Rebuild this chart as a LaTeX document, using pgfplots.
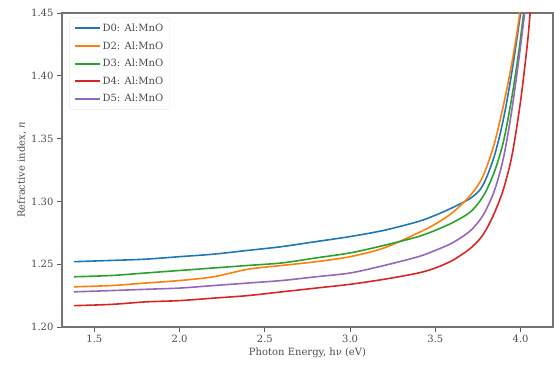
\documentclass[border=0pt]{standalone}
\usepackage{pgfplots}
\pgfplotsset{compat=1.18}
\usepackage{fontspec}
\setmainfont{DejaVu Serif}
\definecolor{tabblue}{HTML}{1F77B4}
\definecolor{taborange}{HTML}{FF7F0E}
\definecolor{tabgreen}{HTML}{2CA02C}
\definecolor{tabred}{HTML}{D62728}
\definecolor{tabpurple}{HTML}{9467BD}
\begin{document}
\begin{tikzpicture}
\begin{axis}[
  name=ax,
  scale only axis,
  width=491pt, height=314pt,
  xmin=1.31, xmax=4.19, ymin=1.20, ymax=1.45,
  xtick={1.5,2.0,2.5,3.0,3.5,4.0},
  ytick={1.20,1.25,1.30,1.35,1.40,1.45},
  xticklabel style={/pgf/number format/.cd,fixed,fixed zerofill,precision=1},
  yticklabel style={/pgf/number format/.cd,fixed,fixed zerofill,precision=2},
  /pgf/number format/assume math mode=true,
  tick label style={font=\fontsize{10}{12}\selectfont, text=black!70},
  label style={font=\fontsize{10}{12}\selectfont, text=black!70},
  xlabel={Photon Energy, hν (eV)},
  ylabel={Refractive index, \textit{n}},
  xlabel style={yshift=2pt},
  ylabel style={yshift=-2pt},
  tick align=outside, tick pos=left,
  major tick length=5pt,
  every tick/.style={black!65, line width=0.9pt},
  axis line style={black!55, line width=1.4pt},
  legend style={at={(0.015,0.985)}, anchor=north west, draw=black!10, rounded corners=2pt,
    font=\fontsize{10}{12}\selectfont, text=black!70, row sep=4.5pt, inner sep=4pt,
    fill=white, fill opacity=0.8, text opacity=1},
  legend cell align=left,
  legend image code/.code={\draw[#1, line width=2pt] (0pt,0pt) -- (25pt,0pt);},
  every axis plot/.append style={line width=1.6pt, smooth},
]
\addplot[tabblue] coordinates {(1.38,1.252)(1.6,1.253)(1.8,1.254)(2.0,1.256)(2.2,1.258)(2.4,1.261)(2.6,1.264)(2.8,1.268)(3.0,1.272)(3.2,1.277)(3.4,1.284)(3.5,1.289)(3.6,1.295)(3.7,1.302)(3.76,1.309)(3.8,1.319)(3.85,1.338)(3.9,1.366)(3.95,1.404)(4.0,1.45)(4.02,1.47)};
\addlegendentry{D0: Al:MnO}
\addplot[taborange] coordinates {(1.38,1.232)(1.6,1.233)(1.8,1.235)(2.0,1.237)(2.2,1.240)(2.4,1.246)(2.6,1.249)(2.8,1.252)(3.0,1.256)(3.2,1.263)(3.4,1.275)(3.5,1.282)(3.6,1.291)(3.7,1.304)(3.76,1.315)(3.8,1.327)(3.85,1.348)(3.9,1.377)(3.95,1.411)(3.99,1.445)(4.01,1.47)};
\addlegendentry{D2: Al:MnO}
\addplot[tabgreen] coordinates {(1.38,1.240)(1.6,1.241)(1.8,1.243)(2.0,1.245)(2.2,1.247)(2.4,1.249)(2.6,1.251)(2.8,1.255)(3.0,1.259)(3.2,1.265)(3.4,1.272)(3.5,1.277)(3.6,1.283)(3.7,1.291)(3.76,1.300)(3.8,1.309)(3.85,1.325)(3.9,1.348)(3.95,1.384)(3.99,1.420)(4.02,1.452)(4.04,1.47)};
\addlegendentry{D3: Al:MnO}
\addplot[tabred] coordinates {(1.38,1.217)(1.6,1.218)(1.8,1.220)(2.0,1.221)(2.2,1.223)(2.4,1.225)(2.6,1.228)(2.8,1.231)(3.0,1.234)(3.2,1.238)(3.4,1.243)(3.5,1.247)(3.6,1.253)(3.7,1.262)(3.76,1.270)(3.8,1.278)(3.85,1.292)(3.9,1.310)(3.95,1.337)(4.0,1.380)(4.04,1.426)(4.06,1.455)(4.08,1.47)};
\addlegendentry{D4: Al:MnO}
\addplot[tabpurple] coordinates {(1.38,1.228)(1.6,1.229)(1.8,1.230)(2.0,1.231)(2.2,1.233)(2.4,1.235)(2.6,1.237)(2.8,1.240)(3.0,1.243)(3.2,1.249)(3.4,1.256)(3.5,1.261)(3.6,1.267)(3.7,1.276)(3.76,1.285)(3.8,1.294)(3.85,1.310)(3.9,1.335)(3.95,1.374)(4.0,1.424)(4.025,1.452)(4.04,1.47)};
\addlegendentry{D5: Al:MnO}
\end{axis}
\pgfresetboundingbox
\path[use as bounding box] ([shift={(-62pt,-48pt)}]ax.south west) rectangle ([shift={(1pt,13pt)}]ax.north east);
\end{tikzpicture}
\end{document}
